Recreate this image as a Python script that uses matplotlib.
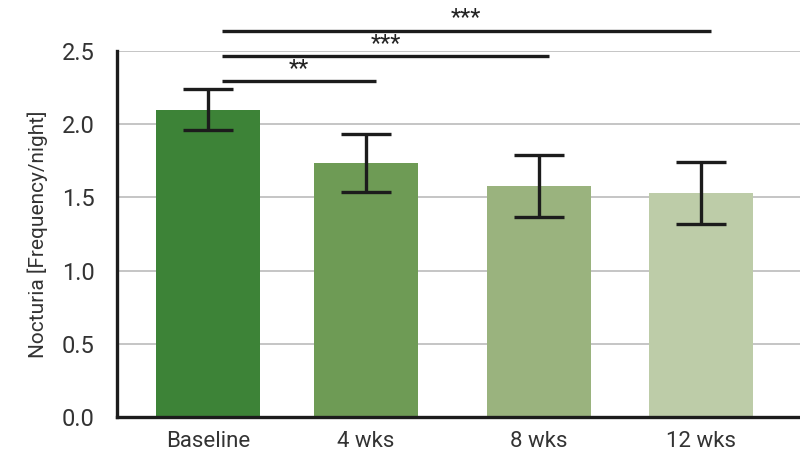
import matplotlib

matplotlib.use("Agg")
import matplotlib.pyplot as plt

# values
categories = ["Baseline", "4 wks", "8 wks", "12 wks"]
means = [2.10, 1.735, 1.578, 1.53]
errors = [0.14, 0.20, 0.212, 0.212]
sig_pairs = [(0, 1), (0, 2), (0, 3)]
sig_labels = ["**", "***", "***"]

# layout / style
x_pos = [0.0, 0.9875, 2.069, 3.081]
bar_colors = ["#3d8337", "#6e9b55", "#9ab37e", "#bdcca8"]
bracket_y = [2.295, 2.466, 2.637]

plt.rcParams["font.family"] = ["Roboto", "DejaVu Sans"]

fig = plt.figure(figsize=(8.0, 4.62), dpi=100)
ax = fig.add_axes([0.146, 0.0974, 0.854, 0.7922])

ax.bar(x_pos, means, width=0.65, color=bar_colors, zorder=2)
ax.errorbar(
    x_pos, means, yerr=errors, fmt="none", ecolor="#1c1c1c",
    elinewidth=2.4, capsize=18, capthick=2.4, zorder=3,
)

for (i, j), lbl, y in zip(sig_pairs, sig_labels, bracket_y):
    x0 = x_pos[i] + 0.09
    x1 = x_pos[j] + 0.06
    ax.plot([x0, x1], [y, y], color="#1c1c1c", lw=2.4, clip_on=False,
            solid_capstyle="butt")
    ax.text((x0 + x1) / 2, y + 0.01, lbl, ha="center", va="bottom",
            fontsize=17, color="#222222", clip_on=False)

ax.set_xlim(-0.569, 3.7)
ax.set_ylim(0, 2.5)
ax.set_yticks([0.0, 0.5, 1.0, 1.5, 2.0, 2.5])
ax.set_yticklabels([f"{v:.1f}" for v in ax.get_yticks()], fontsize=17)
ax.set_xticks(x_pos)
ax.set_xticklabels(categories, fontsize=16)
ax.tick_params(axis="both", length=0, colors="#333333")
ax.tick_params(axis="y", pad=16)
ax.tick_params(axis="x", pad=10)
ax.yaxis.grid(True, color="#bbbbbb", lw=1.2, zorder=0)
ax.set_axisbelow(True)

for side in ("top", "right"):
    ax.spines[side].set_visible(False)
for side in ("left", "bottom"):
    ax.spines[side].set_linewidth(2.4)
    ax.spines[side].set_color("#1c1c1c")

ax.set_ylabel("Nocturia [Frequency/night]", fontsize=15, color="#333333",
              labelpad=10)

fig.savefig("out.png", dpi=100)
